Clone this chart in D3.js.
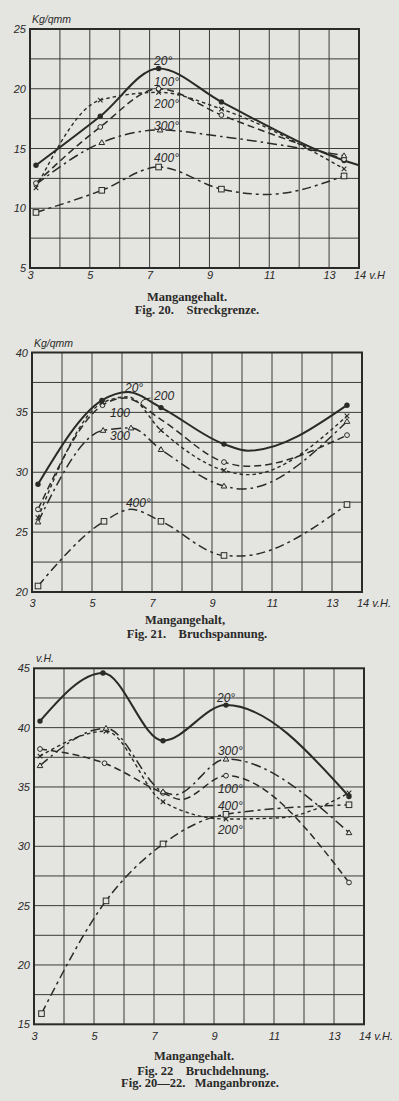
<!DOCTYPE html>
<html><head><meta charset="utf-8">
<script src="https://cdn.jsdelivr.net/npm/d3@7/dist/d3.min.js"></script>
<style>body{margin:0;background:#e4e4e1}svg{display:block}</style>
</head><body><svg id="c" width="399" height="1101"></svg>
<script>
// ---------------- data ----------------
const temps = ["20°", "100°", "200°", "300°", "400°"];
const xTicks = [3, 5, 7, 9, 11, 13];
const yTicks20 = [5, 10, 15, 20, 25];
const yTicks21 = [20, 25, 30, 35, 40];
const yTicks22 = [15, 20, 25, 30, 35, 40, 45];

// Fig. 20 Streckgrenze (kg/qmm), one array per temperature in the order of `temps`
const streckgrenze = [
  [[3.2,13.6,1],[5.35,17.7,1],[7.3,21.7,1],[9.4,18.9,1],[13.5,14.0,1],[14,13.6,0]],
  [[3.2,12.1,1],[5.35,16.8,1],[7.3,20.0,1],[9.4,17.8,1],[13.5,14.1,1]],
  [[3.2,11.7,1],[5.35,19.05,1],[7.3,19.7,1],[9.4,18.3,1],[13.5,13.3,1]],
  [[3.2,12.0,0],[5.4,15.5,1],[7.35,16.55,1],[9.4,16.0,0],[13.5,14.4,1]],
  [[3.2,9.65,1],[5.4,11.5,1],[7.3,13.45,1],[9.4,11.6,1],[10.9,11.15,0],[13.5,12.7,1]]
];
// Fig. 21 Bruchspannung (kg/qmm)
const bruchspannung = [
  [[3.2,29.0,1],[5.33,36.0,1],[6.2,36.7,0],[7.3,35.4,1],[9.4,32.35,1],[10.2,31.8,0],[13.5,35.6,1]],
  [[3.2,26.9,1],[5.35,35.6,1],[6.1,36.2,0],[7.3,34.4,0],[9.4,30.85,1],[10.2,30.5,0],[13.5,33.1,1]],
  [[3.2,26.2,1],[5.35,35.8,1],[6.2,36.3,0],[7.3,33.5,1],[9.4,30.15,1],[10.2,29.8,0],[13.5,34.7,1]],
  [[3.2,25.85,1],[5.37,33.5,1],[6.3,33.7,1],[7.3,31.9,1],[9.4,28.85,1],[10.0,28.6,0],[13.5,34.25,1]],
  [[3.2,20.5,1],[5.4,25.9,1],[6.3,26.9,0],[7.3,25.9,1],[9.4,23.05,1],[9.9,23.0,0],[13.5,27.3,1]]
];
// Fig. 22 Bruchdehnung (v.H.)
const bruchdehnung = [
  [[3.2,40.55,1],[5.3,44.6,1],[7.3,38.9,1],[9.4,41.9,1],[13.5,34.2,1]],
  [[3.2,38.2,1],[5.35,37.0,1],[7.3,34.5,1],[7.9,33.95,0],[9.4,35.95,1],[13.5,26.95,1]],
  [[3.2,37.6,1],[5.4,39.7,1],[7.3,33.75,1],[9.4,32.3,1],[11.2,32.4,0],[13.5,34.5,1]],
  [[3.2,36.8,1],[5.4,39.95,1],[7.3,34.6,1],[7.7,34.35,0],[9.4,37.35,1],[13.5,31.15,1]],
  [[3.25,15.9,1],[5.4,25.4,1],[7.3,30.2,1],[9.4,32.7,1],[13.5,33.5,1]]
];

// ---------------- styles ----------------
const INK = "#2a2a28";
const PAPER = "#e4e4e1";
const styles = {
  "20°":  {dash: null,          w: 2.0, m: "dot"},
  "100°": {dash: "7,4",         w: 1.5, m: "circle"},
  "200°": {dash: "3.5,3",       w: 1.4, m: "cross"},
  "300°": {dash: "10,4,2.5,4",  w: 1.5, m: "tri"},
  "400°": {dash: "9,4,3,4",     w: 1.5, m: "square"}
};
const tickFont = "Liberation Sans, Arial, sans-serif";
const capFont = "Liberation Serif, Times New Roman, serif";

const svg = d3.select("#c");
svg.append("rect").attr("width", 399).attr("height", 1101).attr("fill", PAPER);

function drawMarker(g, type, cx, cy) {
  if (type === "dot") g.append("circle").attr("cx", cx).attr("cy", cy).attr("r", 2.7).attr("fill", INK);
  else if (type === "circle") g.append("circle").attr("cx", cx).attr("cy", cy).attr("r", 2.4)
      .attr("fill", PAPER).attr("stroke", INK).attr("stroke-width", 1);
  else if (type === "cross") g.append("path")
      .attr("d", `M${cx-2.3},${cy-2.3}L${cx+2.3},${cy+2.3}M${cx+2.3},${cy-2.3}L${cx-2.3},${cy+2.3}`)
      .attr("stroke", INK).attr("stroke-width", 1.1);
  else if (type === "tri") g.append("path")
      .attr("d", `M${cx},${cy-2.8}L${cx+2.8},${cy+2}L${cx-2.8},${cy+2}Z`)
      .attr("fill", PAPER).attr("stroke", INK).attr("stroke-width", 1);
  else if (type === "square") g.append("rect").attr("x", cx-2.8).attr("y", cy-2.8)
      .attr("width", 5.6).attr("height", 5.6)
      .attr("fill", PAPER).attr("stroke", INK).attr("stroke-width", 1);
}

function drawFig(cfg) {
  const g = svg.append("g");
  const x = d3.scaleLinear().domain([3, 14]).range([cfg.l, cfg.r]);
  const y = d3.scaleLinear().domain(cfg.ydom).range([cfg.b, cfg.t]);

  // grid
  g.selectAll(".vg").data(d3.range(4, 14)).join("line")
    .attr("x1", d => x(d)).attr("x2", d => x(d)).attr("y1", cfg.t).attr("y2", cfg.b)
    .attr("stroke", "#3a3a38").attr("stroke-width", 1);
  g.selectAll(".hg").data(d3.range(cfg.ydom[0] + 2.5, cfg.ydom[1], 2.5)).join("line")
    .attr("x1", cfg.l).attr("x2", cfg.r).attr("y1", d => y(d)).attr("y2", d => y(d))
    .attr("stroke", "#3a3a38").attr("stroke-width", 1);
  g.append("rect").attr("x", cfg.l).attr("y", cfg.t)
    .attr("width", cfg.r - cfg.l).attr("height", cfg.b - cfg.t)
    .attr("fill", "none").attr("stroke", INK).attr("stroke-width", 2);

  // axes (labels only)
  const ya = g.append("g").attr("transform", `translate(${cfg.l},0)`)
    .call(d3.axisLeft(y).tickValues(cfg.yticks).tickSize(0).tickPadding(4).tickFormat(d3.format("d")));
  const xa = g.append("g").attr("transform", `translate(0,${cfg.b})`)
    .call(d3.axisBottom(x).tickValues(xTicks).tickSize(0).tickPadding(cfg.xpad).tickFormat(d3.format("d")));
  [ya, xa].forEach(a => {
    a.select(".domain").remove();
    a.selectAll("text").attr("font-family", tickFont).attr("font-style", "italic")
      .attr("font-size", 11).attr("fill", INK);
  });
  xa.append("text").attr("x", x(14) - 5).attr("y", cfg.xpad).attr("dy", "0.71em")
    .attr("text-anchor", "start").attr("font-family", tickFont).attr("font-style", "italic")
    .attr("font-size", 11).attr("fill", INK).text(cfg.xend);
  g.append("text").attr("x", cfg.l + 2).attr("y", cfg.t - 6)
    .attr("font-family", tickFont).attr("font-style", "italic").attr("font-size", 10.5)
    .attr("fill", INK).text(cfg.unit);

  // curves
  const line = d3.line().x(d => x(d[0])).y(d => y(d[1])).curve(d3.curveMonotoneX);
  cfg.data.forEach((pts, i) => {
    const st = styles[temps[i]];
    g.append("path").attr("d", line(pts)).attr("fill", "none")
      .attr("stroke", INK).attr("stroke-width", st.w)
      .attr("stroke-dasharray", st.dash).attr("stroke-linecap", "butt");
  });
  cfg.data.forEach((pts, i) => {
    const st = styles[temps[i]];
    pts.filter(p => p[2]).forEach(p => drawMarker(g, st.m, x(p[0]), y(p[1])));
  });

  // series labels
  cfg.labels.forEach(lb => {
    g.append("text").attr("x", x(lb[1])).attr("y", y(lb[2]))
      .attr("font-family", tickFont).attr("font-style", "italic").attr("font-size", 12)
      .attr("fill", INK).text(lb[0]);
  });
  if (cfg.extra) cfg.extra(g, x, y);

  // captions
  cfg.captions.forEach(c => {
    g.append("text").attr("x", c[1]).attr("y", c[2]).attr("text-anchor", "middle")
      .attr("font-family", capFont).attr("font-weight", "bold").attr("font-size", 12.5)
      .attr("fill", INK).style("white-space", "pre").text(c[0]);
  });
}

drawFig({
  l: 30, r: 359, t: 29, b: 268, ydom: [5, 25], yticks: yTicks20, xpad: 3,
  data: streckgrenze, unit: "Kg/qmm", xend: "14 v.H",
  labels: [["20°", 7.15, 22.0], ["100°", 7.15, 20.2], ["200°", 7.15, 18.4], ["300°", 7.15, 16.55], ["400°", 7.15, 13.9]],
  captions: [["Mangangehalt.", 187, 301], ["Fig. 20.    Streckgrenze.", 197, 314]]
});
drawFig({
  l: 32, r: 362, t: 352.5, b: 592, ydom: [20, 40], yticks: yTicks21, xpad: 7,
  data: bruchspannung, unit: "Kg/qmm", xend: "14 v.H.",
  labels: [["20°", 6.1, 36.7], ["200", 7.07, 36.05], ["100", 5.6, 34.6], ["300", 5.6, 32.7], ["400°", 6.13, 27.1]],
  extra: (g, x, y) => g.append("path")
      .attr("d", `M ${x(6.95)} ${y(36.2)} Q ${x(6.55)} ${y(36.1)} ${x(6.65)} ${y(35.5)}`)
      .attr("fill", "none").attr("stroke", INK).attr("stroke-width", 1),
  captions: [["Mangangehalt,", 185, 624], ["Fig. 21.    Bruchspannung.", 197, 638]]
});
drawFig({
  l: 34, r: 364, t: 668.3, b: 1024.3, ydom: [15, 45], yticks: yTicks22, xpad: 8,
  data: bruchdehnung, unit: "v.H.", xend: "14 v.H.",
  labels: [["20°", 9.1, 42.16], ["300°", 9.13, 37.7], ["100°", 9.13, 34.5], ["400°", 9.13, 33.07], ["200°", 9.13, 31.04]],
  captions: [["Mangangehalt.", 194, 1060], ["Fig. 22    Bruchdehnung.", 203, 1075], ["Fig. 20—22.   Manganbronze.", 200, 1087]]
});
</script></body></html>
